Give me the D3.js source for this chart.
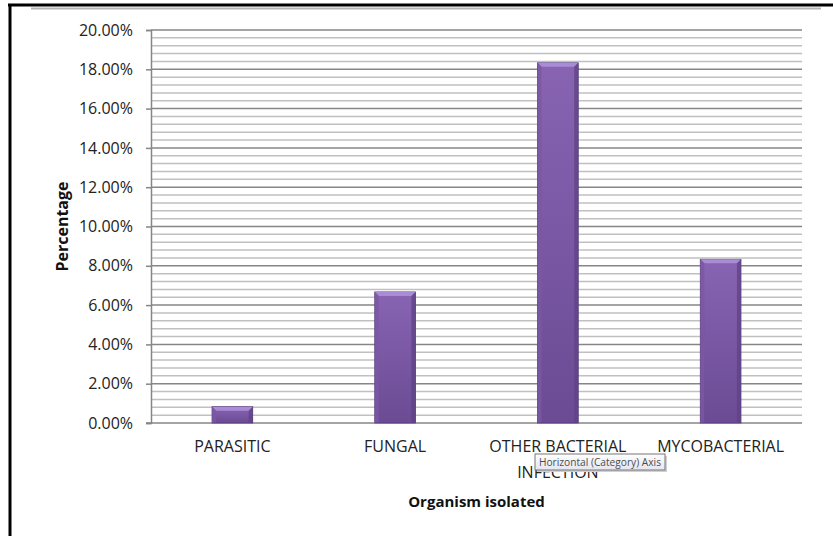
<!DOCTYPE html>
<html>
<head>
<meta charset="utf-8">
<script src="https://cdn.jsdelivr.net/npm/d3@7"></script>
<style>
  html, body { margin: 0; padding: 0; background: #fff; }
  svg { display: block; font-family: "Open Sans", "Noto Sans", sans-serif; }
</style>
</head>
<body>
<div id="chart"></div>
<script>
// organism groups and share of isolates
const categories = ["PARASITIC", "FUNGAL", "OTHER BACTERIAL INFECTION", "MYCOBACTERIAL"];
const percentages = [0.0083, 0.0667, 0.1833, 0.0833];
const majorTicks = [0, 0.02, 0.04, 0.06, 0.08, 0.10, 0.12, 0.14, 0.16, 0.18, 0.20];
const minorStep = 0.004;
const xTitle = "Organism isolated";
const yTitle = "Percentage";
const tipText = "Horizontal (Category) Axis";

const width = 833, height = 536;
const margin = { top: 30, right: 31, bottom: 113, left: 151 };
const innerW = width - margin.left - margin.right;
const innerH = height - margin.top - margin.bottom;

const svg = d3.select("#chart").append("svg")
  .attr("width", width)
  .attr("height", height);

// outer frame
svg.append("line").attr("x1", 8).attr("x2", width).attr("y1", 5).attr("y2", 5)
  .attr("stroke", "#000").attr("stroke-width", 3);
svg.append("line").attr("x1", 10).attr("x2", 10).attr("y1", 4).attr("y2", height)
  .attr("stroke", "#000").attr("stroke-width", 3);
svg.append("line").attr("x1", 31).attr("x2", 821).attr("y1", 8.5).attr("y2", 8.5)
  .attr("stroke", "#b4b4b4").attr("stroke-width", 2);

const defs = svg.append("defs");
const grad = defs.append("linearGradient").attr("id", "barFill")
  .attr("x1", 0).attr("y1", 0).attr("x2", 0).attr("y2", 1);
grad.append("stop").attr("offset", "0%").attr("stop-color", "#8864b3");
grad.append("stop").attr("offset", "100%").attr("stop-color", "#6b4b94");

const g = svg.append("g").attr("transform", `translate(${margin.left},${margin.top})`);

const x = d3.scaleBand().domain(categories).range([0, innerW]).paddingInner(0.75).paddingOuter(0.375);
const y = d3.scaleLinear().domain([0, 0.2]).range([innerH, 0]);

// minor gridlines
const minor = d3.range(0, 0.2 + 1e-9, minorStep).filter(v => !majorTicks.some(m => Math.abs(m - v) < 1e-9));
g.append("g").selectAll("line").data(minor).join("line")
  .attr("x1", 0).attr("x2", innerW)
  .attr("y1", d => y(d)).attr("y2", d => y(d))
  .attr("stroke", "#c0c0c0").attr("stroke-width", 1.5);

// major gridlines
g.append("g").selectAll("line").data(majorTicks.slice(1)).join("line")
  .attr("x1", 0).attr("x2", innerW)
  .attr("y1", d => y(d)).attr("y2", d => y(d))
  .attr("stroke", "#868686").attr("stroke-width", 1.5);

// y axis
const yAxis = g.append("g")
  .call(d3.axisLeft(y).tickValues(majorTicks).tickFormat(d3.format(".2%")).tickSize(5).tickPadding(13));
yAxis.select(".domain").attr("stroke", "#868686").attr("stroke-width", 1.5);
yAxis.selectAll(".tick line").attr("stroke", "#868686").attr("stroke-width", 1.5);
yAxis.selectAll(".tick text").attr("fill", "#222").style("font-size", "16px")
  .style("font-family", "'Open Sans', sans-serif");

// x axis
const xAxis = g.append("g").attr("transform", `translate(0,${innerH})`)
  .call(d3.axisBottom(x).tickSize(0).tickPadding(18));
xAxis.select(".domain").attr("stroke", "#868686").attr("stroke-width", 1.5).attr("d", `M-5,0H${innerW}`);
xAxis.selectAll(".tick text").attr("fill", "#222").style("font-size", "16px")
  .style("font-family", "'Open Sans', sans-serif")
  .call(wrap, x.step() * 0.92);

function wrap(sel, maxW) {
  sel.each(function () {
    const t = d3.select(this);
    const words = t.text().split(/\s+/);
    const yy = t.attr("y"), dy = parseFloat(t.attr("dy"));
    t.text(null);
    let line = [], n = 0;
    let span = t.append("tspan").attr("x", 0).attr("y", yy).attr("dy", dy + "em");
    for (const w of words) {
      line.push(w);
      span.text(line.join(" "));
      if (span.node().getComputedTextLength() > maxW && line.length > 1) {
        line.pop();
        span.text(line.join(" "));
        line = [w];
        n++;
        span = t.append("tspan").attr("x", 0).attr("y", yy)
          .attr("dy", (dy + n * 1.6) + "em").text(w);
      }
    }
  });
}

// bars
const bars = g.append("g").selectAll("g").data(categories).join("g");
bars.append("rect")
  .attr("x", d => x(d))
  .attr("y", (d, i) => y(percentages[i]))
  .attr("width", x.bandwidth())
  .attr("height", (d, i) => innerH - y(percentages[i]))
  .attr("fill", "url(#barFill)")
  .attr("stroke", "#553a78").attr("stroke-width", 0.8);
const bev = 4;
// top bevel highlight
bars.append("polygon")
  .attr("points", (d, i) => {
    const x0 = x(d), x1 = x0 + x.bandwidth(), y0 = y(percentages[i]);
    return [[x0, y0], [x1, y0], [x1 - bev, y0 + bev], [x0 + bev, y0 + bev]].join(" ");
  })
  .attr("fill", "#a98bd6");
// side shading
bars.append("polygon")
  .attr("points", (d, i) => {
    const x0 = x(d), y0 = y(percentages[i]);
    return [[x0, y0], [x0 + bev, y0 + bev], [x0 + bev, innerH - 1], [x0, innerH]].join(" ");
  })
  .attr("fill", "#7a58a3").attr("opacity", 0.8);
bars.append("polygon")
  .attr("points", (d, i) => {
    const x1 = x(d) + x.bandwidth(), y0 = y(percentages[i]);
    return [[x1, y0], [x1 - bev, y0 + bev], [x1 - bev, innerH - 1], [x1, innerH]].join(" ");
  })
  .attr("fill", "#5f4386").attr("opacity", 0.8);

// axis titles
svg.append("text")
  .attr("x", margin.left + innerW / 2 + 0).attr("y", 507)
  .attr("text-anchor", "middle")
  .style("font-size", "15px").style("font-weight", "bold").attr("fill", "#111")
  .text(xTitle);
svg.append("text")
  .attr("transform", `translate(68,${margin.top + innerH / 2}) rotate(-90)`)
  .attr("text-anchor", "middle")
  .style("font-size", "16px").style("font-weight", "bold").attr("fill", "#111")
  .text(yTitle);

// hover tooltip seen in the screenshot
const tip = svg.append("g").attr("transform", "translate(535,454)");
const tipBg = defs.append("linearGradient").attr("id", "tipBg")
  .attr("x1", 0).attr("y1", 0).attr("x2", 0).attr("y2", 1);
tipBg.append("stop").attr("offset", "0%").attr("stop-color", "#ffffff");
tipBg.append("stop").attr("offset", "100%").attr("stop-color", "#e4e5f0");
tip.append("rect").attr("x", 2).attr("y", 2).attr("width", 130).attr("height", 16)
  .attr("fill", "#d0d0d0");
tip.append("rect").attr("x", 0).attr("y", 0).attr("width", 130).attr("height", 16)
  .attr("fill", "url(#tipBg)").attr("stroke", "#767676").attr("stroke-width", 1);
tip.append("text").attr("x", 4).attr("y", 12)
  .style("font-size", "10px").attr("fill", "#4c4c4c")
  .attr("textLength", 122).attr("lengthAdjust", "spacingAndGlyphs")
  .text(tipText);
</script>
</body>
</html>
